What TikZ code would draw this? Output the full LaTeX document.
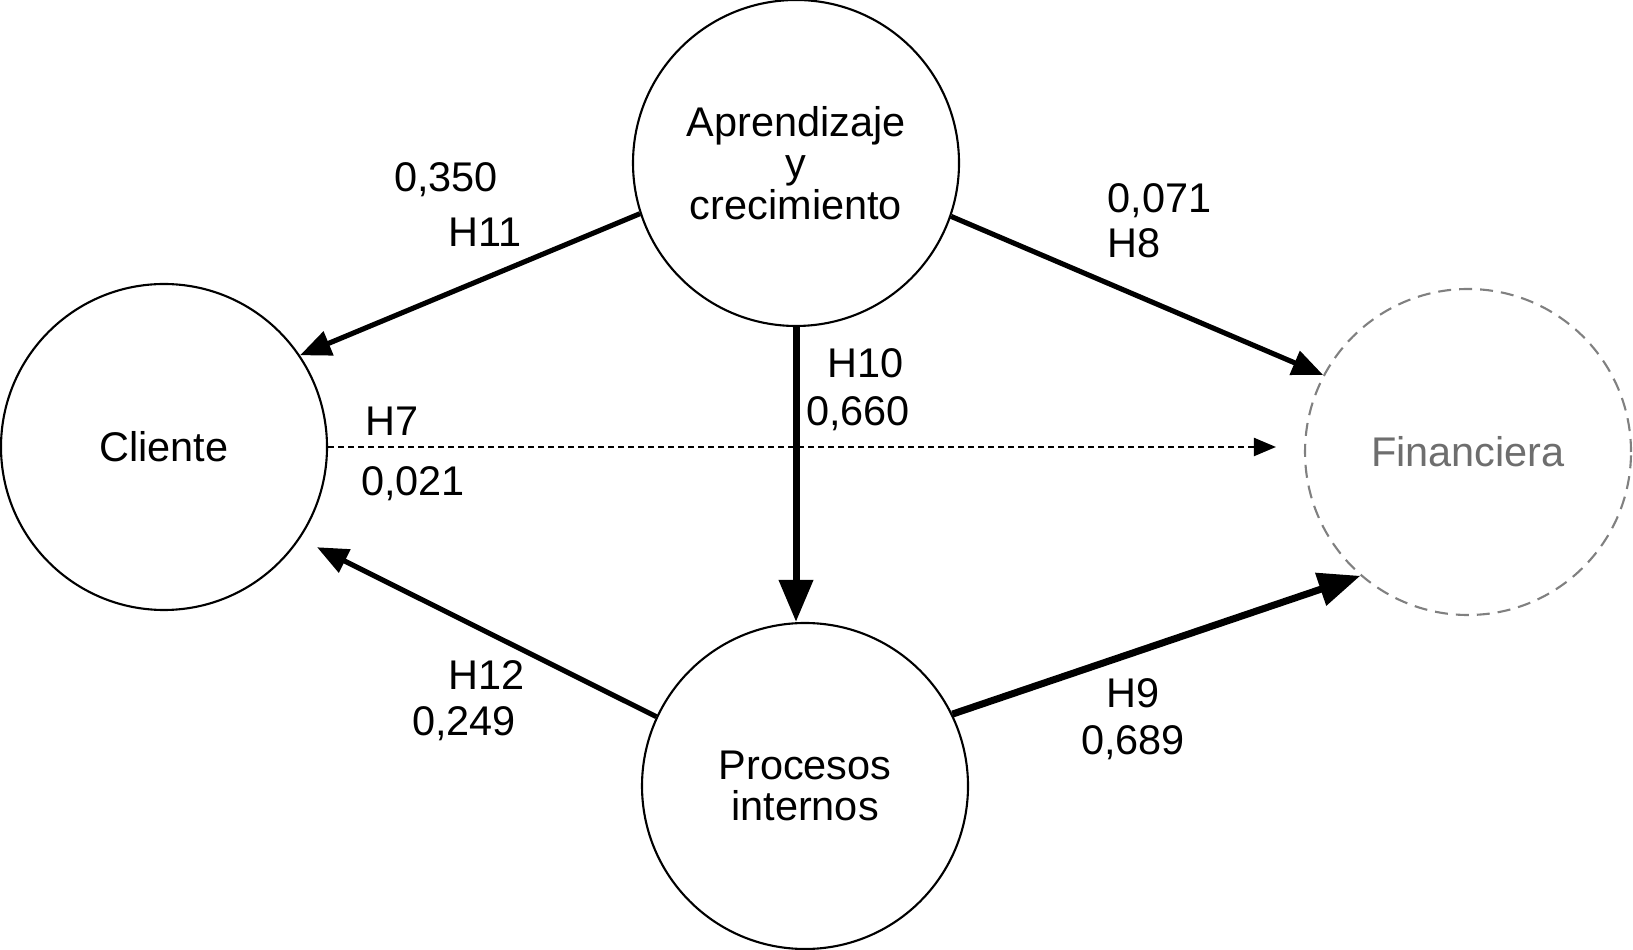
\documentclass[tikz,border=0pt]{standalone}
\usepackage{fontspec}
\setmainfont{Liberation Sans}
\usepackage{tikz}
\usetikzlibrary{arrows.meta, calc, positioning}

\begin{document}
\begin{tikzpicture}[x=0.1mm, y=-0.1mm,
    every node/.style={font=\fontsize{11.8}{11.8}\selectfont},
    var/.style={circle, draw, line width=0.6pt, minimum size=32.6mm, inner sep=0pt, align=center},
    rel/.style={line width=1.45pt, -{Triangle[length=3.1mm, width=2.5mm]}},
    fuerte/.style={line width=2pt, -{Triangle[length=4.2mm, width=3.3mm]}},
    debil/.style={line width=0.6pt, dash pattern=on 0.6mm off 0.4mm, -{Triangle[length=2.2mm, width=1.8mm]}},
    lbl/.style={text height=0.72em, text depth=0pt, inner sep=0pt}]
    \useasboundingbox (0,0) rectangle (1633,950);

    % Constructos
    \node[var] (apr) at (796,163) {Aprendizaje\\y\\crecimiento};
    \node[var] (cli) at (164,447) {Cliente};
    \node[var] (pro) at (805,786) {Procesos\\internos};
    \node[var, draw=gray, text=black!57, dash pattern=on 1.3mm off 0.8mm] (fin) at (1468,452) {Financiera};

    % Relaciones
    \draw[rel] (apr.198) -- (cli.34);
    \draw[rel] (apr.-19) -- (fin.152);
    \draw[fuerte] (apr.south) -- (apr.south |- pro.north);
    \draw[debil, shorten >=2.8mm] (cli.east) -- (cli.east -| fin.west);
    \draw[fuerte] (pro.26) -- (fin.229);
    \draw[rel, shorten >=1.9mm] (pro.155) -- (cli.-34);

    % Coeficientes
    \node[lbl] (c11) at (446,179) {0,350};
    \node[lbl] (h11) at (485,234) {H11};
    \node[lbl, anchor=west] (c8) at (1107,200) {0,071};
    \node[lbl, anchor=west] (h8) at (1107,245) {H8};
    \node[lbl] (h10) at (866,365) {H10};
    \node[lbl] (c10) at (858,413) {0,660};
    \node[lbl] (h7) at (392,423) {H7};
    \node[lbl] (c7) at (413,483) {0,021};
    \node[lbl] (h12) at (487,677) {H12};
    \node[lbl] (c12) at (464,723) {0,249};
    \node[lbl] (h9) at (1133,695) {H9};
    \node[lbl] (c9) at (1133,742) {0,689};
\end{tikzpicture}
\end{document}
